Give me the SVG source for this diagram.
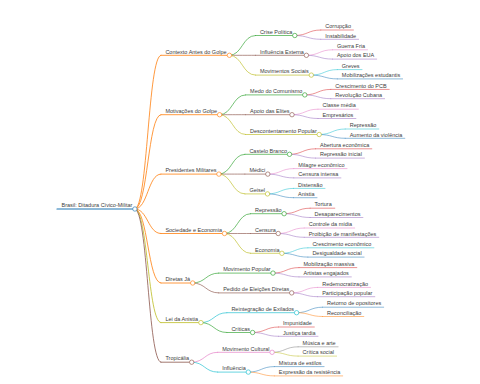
<svg xmlns="http://www.w3.org/2000/svg" width="480" height="384" viewBox="0 0 480 384">
<style>
path{fill:none}
.u,.lk{stroke-linecap:round}
.w0 .u{stroke-width:1.2}
.w1,.w1 .u{stroke-width:.8}
.w2,.w2 .u{stroke-width:.65}
.w3,.w3 .u{stroke-width:.5}
circle{fill:#fff;stroke-width:.65}
text{font-family:"Liberation Sans",Arial,sans-serif;font-size:5.5px;fill:#3c3c3c;stroke:none}
.cb{stroke:#1f77b4}.co{stroke:#ff7f0e}.cg{stroke:#2ca02c}.cr{stroke:#d62728}.cp{stroke:#9467bd}
.cn{stroke:#8c564b}.ck{stroke:#e377c2}.cy{stroke:#7f7f7f}.cl{stroke:#bcbd22}.cc{stroke:#17becf}
</style>
<g id="connectors">
<path class="lk w1 co" d="M134.9 209C147.9 209 147.9 55.3 160.9 55.3"/>
<path class="lk w1 co" d="M134.9 209C147.9 209 147.9 114.7 160.9 114.7"/>
<path class="lk w1 co" d="M134.9 209C147.9 209 147.9 174.1 160.9 174.1"/>
<path class="lk w1 co" d="M134.9 209C147.9 209 147.9 233.5 160.9 233.5"/>
<path class="lk w1 co" d="M134.9 209C147.9 209 147.9 283 160.9 283"/>
<path class="lk w1 cl" d="M134.9 209C147.9 209 147.9 322.6 160.9 322.6"/>
<path class="lk w1 cn" d="M134.9 209C147.9 209 147.9 362.2 160.9 362.2"/>
<path class="lk w2 cg" d="M229.4 55.3C242.4 55.3 242.4 35.5 255.4 35.5"/>
<path class="lk w2 cn" d="M229.4 55.3C242.4 55.3 242.4 55.3 255.4 55.3"/>
<path class="lk w2 cl" d="M229.4 55.3C242.4 55.3 242.4 75.1 255.4 75.1"/>
<path class="lk w2 cg" d="M219.6 114.7C232.6 114.7 232.6 94.9 245.6 94.9"/>
<path class="lk w2 cn" d="M219.6 114.7C232.6 114.7 232.6 114.7 245.6 114.7"/>
<path class="lk w2 cl" d="M219.6 114.7C232.6 114.7 232.6 134.5 245.6 134.5"/>
<path class="lk w2 cg" d="M218.9 174.1C231.9 174.1 231.9 154.3 244.9 154.3"/>
<path class="lk w2 cn" d="M218.9 174.1C231.9 174.1 231.9 174.1 244.9 174.1"/>
<path class="lk w2 cl" d="M218.9 174.1C231.9 174.1 231.9 193.9 244.9 193.9"/>
<path class="lk w2 cg" d="M224.5 233.5C237.5 233.5 237.5 213.7 250.5 213.7"/>
<path class="lk w2 cn" d="M224.5 233.5C237.5 233.5 237.5 233.5 250.5 233.5"/>
<path class="lk w2 cl" d="M224.5 233.5C237.5 233.5 237.5 253.3 250.5 253.3"/>
<path class="lk w2 cg" d="M192.7 283C205.7 283 205.7 273.1 218.7 273.1"/>
<path class="lk w2 cn" d="M192.7 283C205.7 283 205.7 292.9 218.7 292.9"/>
<path class="lk w2 cc" d="M200.9 322.6C213.9 322.6 213.9 312.7 226.9 312.7"/>
<path class="lk w2 cg" d="M200.9 322.6C213.9 322.6 213.9 332.5 226.9 332.5"/>
<path class="lk w2 ck" d="M191.7 362.2C204.7 362.2 204.7 352.3 217.7 352.3"/>
<path class="lk w2 cc" d="M191.7 362.2C204.7 362.2 204.7 372.1 217.7 372.1"/>
<path class="lk w3 cr" d="M294.8 35.5C307.8 35.5 307.8 30 320.8 30"/>
<path class="lk w3 cp" d="M294.8 35.5C307.8 35.5 307.8 39.3 320.8 39.3"/>
<path class="lk w3 ck" d="M306.4 55.3C319.4 55.3 319.4 49.8 332.4 49.8"/>
<path class="lk w3 cp" d="M306.4 55.3C319.4 55.3 319.4 59.1 332.4 59.1"/>
<path class="lk w3 cc" d="M311.3 75.1C324.3 75.1 324.3 69.6 337.3 69.6"/>
<path class="lk w3 cb" d="M311.3 75.1C324.3 75.1 324.3 78.9 337.3 78.9"/>
<path class="lk w3 cr" d="M304.8 94.9C317.8 94.9 317.8 89.4 330.8 89.4"/>
<path class="lk w3 cp" d="M304.8 94.9C317.8 94.9 317.8 98.7 330.8 98.7"/>
<path class="lk w3 ck" d="M292 114.7C305 114.7 305 109.2 318 109.2"/>
<path class="lk w3 cp" d="M292 114.7C305 114.7 305 118.5 318 118.5"/>
<path class="lk w3 cc" d="M319.2 134.5C332.2 134.5 332.2 129 345.2 129"/>
<path class="lk w3 cb" d="M319.2 134.5C332.2 134.5 332.2 138.3 345.2 138.3"/>
<path class="lk w3 cr" d="M289.5 154.3C302.5 154.3 302.5 148.8 315.5 148.8"/>
<path class="lk w3 cp" d="M289.5 154.3C302.5 154.3 302.5 158.1 315.5 158.1"/>
<path class="lk w3 ck" d="M267.8 174.1C280.8 174.1 280.8 168.6 293.8 168.6"/>
<path class="lk w3 cp" d="M267.8 174.1C280.8 174.1 280.8 177.9 293.8 177.9"/>
<path class="lk w3 cc" d="M267.5 193.9C280.5 193.9 280.5 188.4 293.5 188.4"/>
<path class="lk w3 cb" d="M267.5 193.9C280.5 193.9 280.5 197.7 293.5 197.7"/>
<path class="lk w3 cr" d="M284.1 213.7C297.1 213.7 297.1 208.2 310.1 208.2"/>
<path class="lk w3 cp" d="M284.1 213.7C297.1 213.7 297.1 217.5 310.1 217.5"/>
<path class="lk w3 ck" d="M278.2 233.5C291.2 233.5 291.2 228 304.2 228"/>
<path class="lk w3 cp" d="M278.2 233.5C291.2 233.5 291.2 237.3 304.2 237.3"/>
<path class="lk w3 cc" d="M281.9 253.3C294.9 253.3 294.9 247.8 307.9 247.8"/>
<path class="lk w3 cb" d="M281.9 253.3C294.9 253.3 294.9 257.1 307.9 257.1"/>
<path class="lk w3 cr" d="M273 273.1C286 273.1 286 267.6 299 267.6"/>
<path class="lk w3 cp" d="M273 273.1C286 273.1 286 276.9 299 276.9"/>
<path class="lk w3 ck" d="M291.7 292.9C304.7 292.9 304.7 287.4 317.7 287.4"/>
<path class="lk w3 cp" d="M291.7 292.9C304.7 292.9 304.7 296.7 317.7 296.7"/>
<path class="lk w3 cb" d="M296.6 312.7C309.6 312.7 309.6 307.2 322.6 307.2"/>
<path class="lk w3 co" d="M296.6 312.7C309.6 312.7 309.6 316.5 322.6 316.5"/>
<path class="lk w3 cr" d="M252.6 332.5C265.6 332.5 265.6 327 278.6 327"/>
<path class="lk w3 cp" d="M252.6 332.5C265.6 332.5 265.6 336.3 278.6 336.3"/>
<path class="lk w3 cy" d="M272.1 352.3C285.1 352.3 285.1 346.8 298.1 346.8"/>
<path class="lk w3 cl" d="M272.1 352.3C285.1 352.3 285.1 356.1 298.1 356.1"/>
<path class="lk w3 cb" d="M248.3 372.1C261.3 372.1 261.3 366.6 274.3 366.6"/>
<path class="lk w3 co" d="M248.3 372.1C261.3 372.1 261.3 375.9 274.3 375.9"/>
</g>
<g id="root" class="w0 cb"><path class="u" d="M57 209H134.9"/><circle cx="134.9" cy="209" r="2.2"/><text x="61.5" y="207.2">Brasil: Ditadura Cívico-Militar</text></g>
<g id="n1" class="w1 co"><path class="u" d="M160.9 55.3H229.4"/><circle cx="229.4" cy="55.3" r="2.2"/><text x="165.4" y="53.5">Contexto Antes do Golpe</text></g>
<g id="n2" class="w1 co"><path class="u" d="M160.9 114.7H219.6"/><circle cx="219.6" cy="114.7" r="2.2"/><text x="165.4" y="112.9">Motivações do Golpe</text></g>
<g id="n3" class="w1 co"><path class="u" d="M160.9 174.1H218.9"/><circle cx="218.9" cy="174.1" r="2.2"/><text x="165.4" y="172.3">Presidentes Militares</text></g>
<g id="n4" class="w1 co"><path class="u" d="M160.9 233.5H224.5"/><circle cx="224.5" cy="233.5" r="2.2"/><text x="165.4" y="231.7">Sociedade e Economia</text></g>
<g id="n5" class="w1 co"><path class="u" d="M160.9 283H192.7"/><circle cx="192.7" cy="283" r="2.2"/><text x="165.4" y="281.2">Diretas Já</text></g>
<g id="n6" class="w1 cl"><path class="u" d="M160.9 322.6H200.9"/><circle cx="200.9" cy="322.6" r="2.2"/><text x="165.4" y="320.8">Lei da Anistia</text></g>
<g id="n7" class="w1 cn"><path class="u" d="M160.9 362.2H191.7"/><circle cx="191.7" cy="362.2" r="2.2"/><text x="165.4" y="360.4">Tropicália</text></g>
<g id="n1-1" class="w2 cg"><path class="u" d="M255.4 35.5H294.8"/><circle cx="294.8" cy="35.5" r="2.2"/><text x="259.9" y="33.7">Crise Política</text></g>
<g id="n1-2" class="w2 cn"><path class="u" d="M255.4 55.3H306.4"/><circle cx="306.4" cy="55.3" r="2.2"/><text x="259.9" y="53.5">Influência Externa</text></g>
<g id="n1-3" class="w2 cl"><path class="u" d="M255.4 75.1H311.3"/><circle cx="311.3" cy="75.1" r="2.2"/><text x="259.9" y="73.3">Movimentos Sociais</text></g>
<g id="n2-1" class="w2 cg"><path class="u" d="M245.6 94.9H304.8"/><circle cx="304.8" cy="94.9" r="2.2"/><text x="250.1" y="93.1">Medo do Comunismo</text></g>
<g id="n2-2" class="w2 cn"><path class="u" d="M245.6 114.7H292"/><circle cx="292" cy="114.7" r="2.2"/><text x="250.1" y="112.9">Apoio das Elites</text></g>
<g id="n2-3" class="w2 cl"><path class="u" d="M245.6 134.5H319.2"/><circle cx="319.2" cy="134.5" r="2.2"/><text x="250.1" y="132.7">Descontentamento Popular</text></g>
<g id="n3-1" class="w2 cg"><path class="u" d="M244.9 154.3H289.5"/><circle cx="289.5" cy="154.3" r="2.2"/><text x="249.4" y="152.5">Castelo Branco</text></g>
<g id="n3-2" class="w2 cn"><path class="u" d="M244.9 174.1H267.8"/><circle cx="267.8" cy="174.1" r="2.2"/><text x="249.4" y="172.3">Médici</text></g>
<g id="n3-3" class="w2 cl"><path class="u" d="M244.9 193.9H267.5"/><circle cx="267.5" cy="193.9" r="2.2"/><text x="249.4" y="192.1">Geisel</text></g>
<g id="n4-1" class="w2 cg"><path class="u" d="M250.5 213.7H284.1"/><circle cx="284.1" cy="213.7" r="2.2"/><text x="255" y="211.9">Repressão</text></g>
<g id="n4-2" class="w2 cn"><path class="u" d="M250.5 233.5H278.2"/><circle cx="278.2" cy="233.5" r="2.2"/><text x="255" y="231.7">Censura</text></g>
<g id="n4-3" class="w2 cl"><path class="u" d="M250.5 253.3H281.9"/><circle cx="281.9" cy="253.3" r="2.2"/><text x="255" y="251.5">Economia</text></g>
<g id="n5-1" class="w2 cg"><path class="u" d="M218.7 273.1H273"/><circle cx="273" cy="273.1" r="2.2"/><text x="223.2" y="271.3">Movimento Popular</text></g>
<g id="n5-2" class="w2 cn"><path class="u" d="M218.7 292.9H291.7"/><circle cx="291.7" cy="292.9" r="2.2"/><text x="223.2" y="291.1">Pedido de Eleições Diretas</text></g>
<g id="n6-1" class="w2 cc"><path class="u" d="M226.9 312.7H296.6"/><circle cx="296.6" cy="312.7" r="2.2"/><text x="231.4" y="310.9">Reintegração de Exilados</text></g>
<g id="n6-2" class="w2 cg"><path class="u" d="M226.9 332.5H252.6"/><circle cx="252.6" cy="332.5" r="2.2"/><text x="231.4" y="330.7">Críticas</text></g>
<g id="n7-1" class="w2 ck"><path class="u" d="M217.7 352.3H272.1"/><circle cx="272.1" cy="352.3" r="2.2"/><text x="222.2" y="350.5">Movimento Cultural</text></g>
<g id="n7-2" class="w2 cc"><path class="u" d="M217.7 372.1H248.3"/><circle cx="248.3" cy="372.1" r="2.2"/><text x="222.2" y="370.3">Influência</text></g>
<g id="l1" class="w3 cr"><path class="u" d="M320.8 30H353.4"/><text x="325.3" y="28.2">Corrupção</text></g>
<g id="l2" class="w3 cp"><path class="u" d="M320.8 39.3H358.6"/><text x="325.3" y="37.5">Instabilidade</text></g>
<g id="l3" class="w3 ck"><path class="u" d="M332.4 49.8H367.5"/><text x="336.9" y="48">Guerra Fria</text></g>
<g id="l4" class="w3 cp"><path class="u" d="M332.4 59.1H376.7"/><text x="336.9" y="57.3">Apoio dos EUA</text></g>
<g id="l5" class="w3 cc"><path class="u" d="M337.3 69.6H362"/><text x="341.8" y="67.8">Greves</text></g>
<g id="l6" class="w3 cb"><path class="u" d="M337.3 78.9H402.6"/><text x="341.8" y="77.1">Mobilizações estudantis</text></g>
<g id="l7" class="w3 cr"><path class="u" d="M330.8 89.4H389.2"/><text x="335.3" y="87.6">Crescimento do PCB</text></g>
<g id="l8" class="w3 cp"><path class="u" d="M330.8 98.7H384.6"/><text x="335.3" y="96.9">Revolução Cubana</text></g>
<g id="l9" class="w3 ck"><path class="u" d="M318 109.2H358.3"/><text x="322.5" y="107.4">Classe média</text></g>
<g id="l10" class="w3 cp"><path class="u" d="M318 118.5H355.9"/><text x="322.5" y="116.7">Empresários</text></g>
<g id="l11" class="w3 cc"><path class="u" d="M345.2 129H378.8"/><text x="349.7" y="127.2">Repressão</text></g>
<g id="l12" class="w3 cb"><path class="u" d="M345.2 138.3H404.8"/><text x="349.7" y="136.5">Aumento da violência</text></g>
<g id="l13" class="w3 cr"><path class="u" d="M315.5 148.8H371.8"/><text x="320" y="147">Abertura econômica</text></g>
<g id="l14" class="w3 cp"><path class="u" d="M315.5 158.1H364.4"/><text x="320" y="156.3">Repressão inicial</text></g>
<g id="l15" class="w3 ck"><path class="u" d="M293.8 168.6H347"/><text x="298.3" y="166.8">Milagre econômico</text></g>
<g id="l16" class="w3 cp"><path class="u" d="M293.8 177.9H340.9"/><text x="298.3" y="176.1">Censura intensa</text></g>
<g id="l17" class="w3 cc"><path class="u" d="M293.5 188.4H325"/><text x="298" y="186.6">Distensão</text></g>
<g id="l18" class="w3 cb"><path class="u" d="M293.5 197.7H317"/><text x="298" y="195.9">Anistia</text></g>
<g id="l19" class="w3 cr"><path class="u" d="M310.1 208.2H334.8"/><text x="314.6" y="206.4">Tortura</text></g>
<g id="l20" class="w3 cp"><path class="u" d="M310.1 217.5H362.9"/><text x="314.6" y="215.7">Desaparecimentos</text></g>
<g id="l21" class="w3 ck"><path class="u" d="M304.2 228H354.7"/><text x="308.7" y="226.2">Controle da mídia</text></g>
<g id="l22" class="w3 cp"><path class="u" d="M304.2 237.3H378.8"/><text x="308.7" y="235.5">Proibição de manifestações</text></g>
<g id="l23" class="w3 cc"><path class="u" d="M307.9 247.8H373.9"/><text x="312.4" y="246">Crescimento econômico</text></g>
<g id="l24" class="w3 cb"><path class="u" d="M307.9 257.1H364.1"/><text x="312.4" y="255.3">Desigualdade social</text></g>
<g id="l25" class="w3 cr"><path class="u" d="M299 267.6H356.8"/><text x="303.5" y="265.8">Mobilização massiva</text></g>
<g id="l26" class="w3 cp"><path class="u" d="M299 276.9H351.3"/><text x="303.5" y="275.1">Artistas engajados</text></g>
<g id="l27" class="w3 ck"><path class="u" d="M317.7 287.4H370.5"/><text x="322.2" y="285.6">Redemocratização</text></g>
<g id="l28" class="w3 cp"><path class="u" d="M317.7 296.7H374.8"/><text x="322.2" y="294.9">Participação popular</text></g>
<g id="l29" class="w3 cb"><path class="u" d="M322.6 307.2H383.7"/><text x="327.1" y="305.4">Retorno de opositores</text></g>
<g id="l30" class="w3 co"><path class="u" d="M322.6 316.5H363.8"/><text x="327.1" y="314.7">Reconciliação</text></g>
<g id="l31" class="w3 cr"><path class="u" d="M278.6 327H314.3"/><text x="283.1" y="325.2">Impunidade</text></g>
<g id="l32" class="w3 cp"><path class="u" d="M278.6 336.3H318"/><text x="283.1" y="334.5">Justiça tardia</text></g>
<g id="l33" class="w3 cy"><path class="u" d="M298.1 346.8H338.1"/><text x="302.6" y="345">Música e arte</text></g>
<g id="l34" class="w3 cl"><path class="u" d="M298.1 356.1H336.6"/><text x="302.6" y="354.3">Crítica social</text></g>
<g id="l35" class="w3 cb"><path class="u" d="M274.3 366.6H324.1"/><text x="278.8" y="364.8">Mistura de estilos</text></g>
<g id="l36" class="w3 co"><path class="u" d="M274.3 375.9H342.7"/><text x="278.8" y="374.1">Expressão da resistência</text></g>
</svg>
